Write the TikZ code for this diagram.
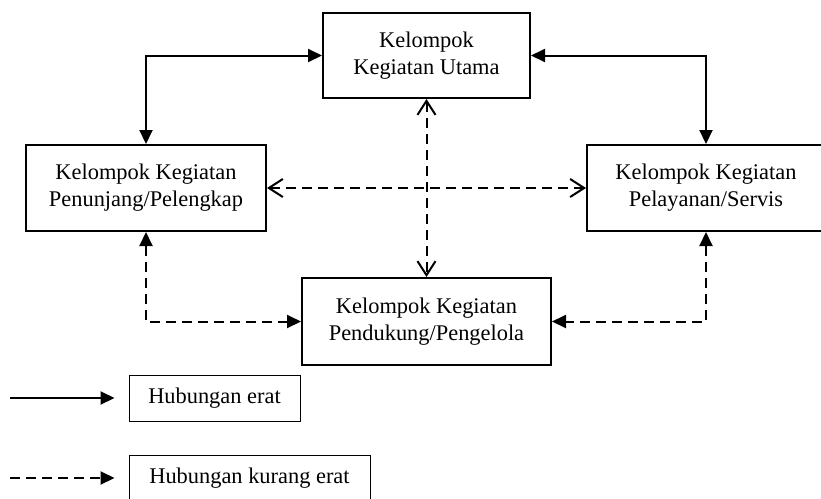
\documentclass[tikz,border=0pt]{standalone}
\usepackage{fontspec}
\setmainfont{Liberation Serif}
\usetikzlibrary{arrows.meta}

\tikzset{
  tri/.tip={Triangle[length=7pt,width=6.5pt]},
  barb/.tip={Straight Barb[length=7pt,width=9pt,line width=1pt]}
}

\begin{document}
\begin{tikzpicture}[
		x=0.5pt, y=-0.5pt,
		every node/.style={rectangle, draw, line width=1pt, align=center, inner sep=2pt,
			font=\fontsize{11.2}{13.4}\selectfont},
		legendbox/.style={line width=0.5pt, minimum height=23pt},
		erat/.style={line width=1pt},
		kurang/.style={line width=1pt, dash pattern=on 5pt off 3pt}
	]
  \useasboundingbox (0,0) rectangle (821,499);
  \node (k_utama) [minimum width=103.5pt, minimum height=42.5pt] at (426.5,55.5) {Kelompok\\Kegiatan Utama};
  \node (k_penunjang) [minimum width=120pt, minimum height=43pt] at (146,188) {Kelompok Kegiatan\\Penunjang/Pelengkap};
  \node (k_pelayanan) [minimum width=119pt, minimum height=43pt] at (706,188) {Kelompok Kegiatan\\Pelayanan/Servis};
  \node (k_pendukung) [minimum width=124.5pt, minimum height=43.5pt] at (426.5,321.5) {Kelompok Kegiatan\\Pendukung/Pengelola};
  \node (leg_erat) [legendbox, minimum width=85.5pt] at (214.5,398) {Hubungan erat};
  \node (leg_kurang) [legendbox, minimum width=120.5pt] at (249.5,478) {Hubungan kurang erat};
  \coordinate (leg_erat_start) at (10,398);
  \coordinate (leg_kurang_start) at (10,478);
  % hubungan erat
  \draw [erat, tri-tri] (k_penunjang.north) |- (k_utama.west);
  \draw [erat, tri-tri] (k_pelayanan.north) |- (k_utama.east);
  % hubungan kurang erat
  \draw [kurang, barb-barb] (k_utama.south) -- (k_pendukung.north);
  \draw [kurang, barb-barb] (k_penunjang.east) -- (k_pelayanan.west);
  \draw [kurang, tri-tri] (k_penunjang.south) |- (k_pendukung.west);
  \draw [kurang, tri-tri] (k_pelayanan.south) |- (k_pendukung.east);
  % keterangan
  \draw [erat, -tri, shorten >=7pt] (leg_erat_start) -- (leg_erat.west);
  \draw [kurang, -tri, shorten >=7pt] (leg_kurang_start) -- (leg_kurang.west);
\end{tikzpicture}
\end{document}
